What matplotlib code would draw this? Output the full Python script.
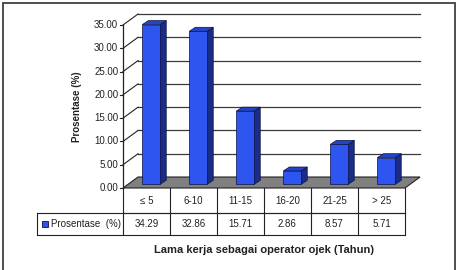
import matplotlib.pyplot as plt
from matplotlib.patches import Polygon, Rectangle

plt.rcParams['font.family'] = ['Liberation Sans', 'DejaVu Sans']

categories = ['\u2264 5', '6-10', '11-15', '16-20', '21-25', '> 25']
values = [34.29, 32.86, 15.71, 2.86, 8.57, 5.71]
yticks = [0, 5, 10, 15, 20, 25, 30, 35]
series_name = 'Prosentase  (%)'

# 3D look (in data units)
wall_dx, wall_dy = 0.32, 2.36
bar_dx, bar_dy = 0.10, 0.79
side_dx, side_dy = 0.13, 0.86
bar_w = 0.38

front_c = '#2f55f0'
side_c = '#1a2c86'
top_c = '#2444c8'

W, H = 464, 270
fig = plt.figure(figsize=(W / 100, H / 100), dpi=100)
ax = fig.add_axes([123 / W, 1 - 188 / H, 282 / W, 163 / H])
ax.set_xlim(0, len(categories))
ax.set_ylim(0, 35)
ax.axis('off')

n = len(categories)

# floor
ax.add_patch(Polygon([(0, 0), (n, 0), (n + wall_dx, wall_dy), (wall_dx, wall_dy)],
                     closed=True, facecolor='#808080', edgecolor='#222222', lw=0.8, clip_on=False, zorder=1))

# back wall gridlines + left wall diagonals + ticks
for t in yticks:
    if t > 0:
        ax.plot([wall_dx, n + wall_dx], [t + wall_dy, t + wall_dy], color='#3a3a3a', lw=0.9, clip_on=False, zorder=0.5)
        ax.plot([0, wall_dx], [t, t + wall_dy], color='#222222', lw=0.8, clip_on=False, zorder=0.5)
    ax.plot([-0.07, 0], [t, t], color='#222222', lw=0.8, clip_on=False)
    ax.text(-0.1, t, '%.2f' % t, ha='right', va='center', fontsize=7, color='#222222')
ax.plot([0, 0], [0, 35], color='#222222', lw=0.9, clip_on=False, zorder=2)

# bars
for i, v in enumerate(values):
    x0 = i + 0.5 - bar_w / 2 + bar_dx
    x1 = x0 + bar_w
    y0 = bar_dy
    y1 = bar_dy + v
    ax.add_patch(Polygon([(x1, y0), (x1 + side_dx, y0 + side_dy), (x1 + side_dx, y1 + side_dy), (x1, y1)],
                         closed=True, facecolor=side_c, edgecolor='#0a1040', lw=0.5, clip_on=False, zorder=3))
    ax.add_patch(Polygon([(x0, y1), (x1, y1), (x1 + side_dx, y1 + side_dy), (x0 + side_dx, y1 + side_dy)],
                         closed=True, facecolor=top_c, edgecolor='#0a1040', lw=0.5, clip_on=False, zorder=3))
    ax.add_patch(Rectangle((x0, y0), bar_w, v, facecolor=front_c, edgecolor='#0a1040', lw=0.5,
                           clip_on=False, zorder=4))

# data table under the chart
r1 = -25 / 4.657
r2 = -47 / 4.657
lx = (37 - 123) / 47
tc = '#222222'
ax.plot([0, n], [r1, r1], color=tc, lw=0.8, clip_on=False)
ax.plot([lx, n], [r1, r1], color=tc, lw=0.8, clip_on=False)
ax.plot([lx, n], [r2, r2], color=tc, lw=0.8, clip_on=False)
ax.plot([lx, lx], [r1, r2], color=tc, lw=0.8, clip_on=False)
for i in range(n + 1):
    ax.plot([i, i], [0, r2], color=tc, lw=0.8, clip_on=False)
for i, c in enumerate(categories):
    ax.text(i + 0.5, r1 / 2, c, ha='center', va='center', fontsize=7, color='#222222')
    ax.text(i + 0.5, (r1 + r2) / 2, '%.2f' % values[i], ha='center', va='center', fontsize=7, color='#222222')
ax.add_patch(Rectangle((lx + 0.1, (r1 + r2) / 2 - 0.65), 0.14, 1.3, facecolor=front_c,
                       edgecolor='#0a1040', lw=0.6, clip_on=False))
ax.text(lx + 0.29, (r1 + r2) / 2, series_name, ha='left', va='center', fontsize=7, color='#222222')

fig.text(77 / W, 1 - 107 / H, 'Prosentase (%)', rotation=90, ha='center', va='center',
         fontsize=7, fontweight='bold', color='#222222')
fig.text(264 / W, 1 - 250 / H, 'Lama kerja sebagai operator ojek (Tahun)', ha='center', va='center',
         fontsize=8, fontweight='bold', color='#222222')

# outer frame
fig.patches.append(Rectangle((2.5 / W, -0.05), 453 / W, 1 - 2.5 / H + 0.05, transform=fig.transFigure,
                             fill=False, edgecolor='#404040', lw=1.3))

fig.savefig('out.png', dpi=100)
